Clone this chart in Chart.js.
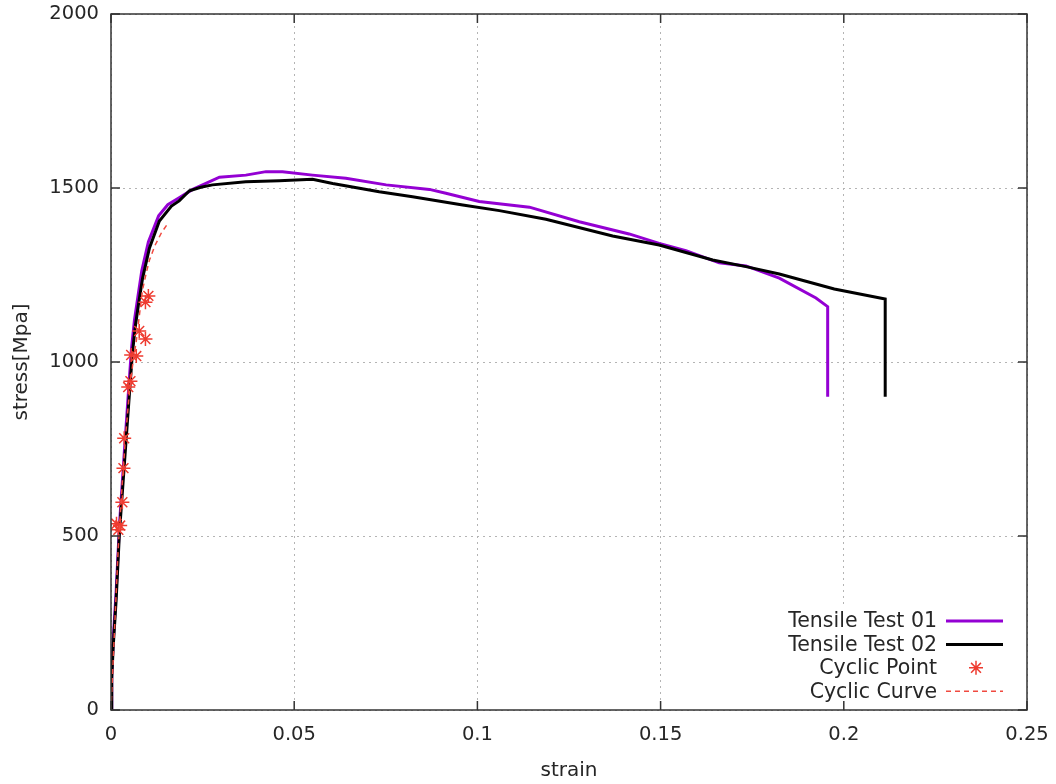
<!DOCTYPE html>
<html>
<head>
<meta charset="utf-8">
<title>Tensile vs cyclic</title>
<script src="https://cdn.jsdelivr.net/npm/chart.js@4/dist/chart.umd.min.js"></script>
<style>
    body { margin: 0; background: #fff; }
    canvas { display: block; }
</style>
</head>
<body>
<canvas id="chart" width="1056" height="784"></canvas>
<script>
// tensile test 01 (purple)
const test01Strain = [0, 0.0002, 0.0006, 0.0014, 0.0023, 0.0035, 0.0048, 0.0056, 0.0064, 0.0073, 0.0084, 0.0102, 0.013, 0.0155, 0.0186, 0.0223, 0.0296, 0.0368, 0.0423, 0.0468, 0.055, 0.0641, 0.0751, 0.0869, 0.0914, 0.1005, 0.1142, 0.1278, 0.1414, 0.1496, 0.1569, 0.166, 0.1733, 0.1824, 0.1924, 0.1956, 0.1956];
const test01Stress = [0, 100, 200, 340, 530, 720, 920, 1040, 1120, 1185, 1262, 1345, 1420, 1452, 1472, 1496, 1531, 1537, 1547, 1547, 1537, 1528, 1509, 1496, 1485, 1461, 1445, 1403, 1368, 1341, 1320, 1285, 1276, 1241, 1184, 1159, 900];

// tensile test 02 (black)
const test02Strain = [0, 0.0002, 0.0006, 0.0014, 0.0023, 0.0036, 0.005, 0.0058, 0.0066, 0.0075, 0.0086, 0.0105, 0.0132, 0.0165, 0.0186, 0.0214, 0.0245, 0.0277, 0.0368, 0.0459, 0.055, 0.0605, 0.0732, 0.0823, 0.096, 0.106, 0.1187, 0.1369, 0.1496, 0.1642, 0.1733, 0.1824, 0.1974, 0.2113, 0.2113];
const test02Stress = [0, 90, 182, 316, 508, 699, 905, 1020, 1100, 1165, 1240, 1328, 1405, 1448, 1463, 1492, 1502, 1509, 1518, 1521, 1525, 1513, 1489, 1475, 1451, 1435, 1410, 1362, 1336, 1293, 1274, 1253, 1210, 1181, 900];

// cyclic points (red asterisks)
const cyclicStrain = [0.0015, 0.002, 0.0025, 0.0031, 0.0034, 0.0036, 0.0047, 0.0053, 0.0055, 0.0069, 0.0077, 0.0094, 0.0094, 0.0102];
const cyclicStress = [535, 518, 530, 597, 695, 781, 928, 945, 1020, 1017, 1089, 1066, 1172, 1190];

// cyclic curve (dashed)
const curveStrain = [0, 0.0005, 0.001, 0.002, 0.003, 0.004, 0.005, 0.006, 0.0069, 0.0077, 0.0086, 0.0096, 0.0105, 0.012, 0.0138, 0.0155];
const curveStress = [0, 120, 240, 470, 640, 790, 910, 1000, 1060, 1130, 1207, 1255, 1293, 1335, 1372, 1398];

const xTickValues = [0, 0.05, 0.1, 0.15, 0.2, 0.25];
const xTickLabels = ['0', '0.05', '0.1', '0.15', '0.2', '0.25'];
const yTickValues = [0, 500, 1000, 1500, 2000];
const yTickLabels = ['0', '500', '1000', '1500', '2000'];

const seriesLabels = ['Tensile Test 01', 'Tensile Test 02', 'Cyclic Point', 'Cyclic Curve'];

function toPoints(xs, ys) {
    return xs.map((x, i) => ({x: x, y: ys[i]}));
}

const FONT = 'DejaVu Sans';
const TEXT = '#262626';

// gnuplot-style key, text on the left of the sample, white box behind
const keyPlugin = {
    id: 'key',
    afterDatasetsDraw(chart) {
        const ctx = chart.ctx;
        const area = chart.chartArea;
        const right = area.right - 24;
        const rowH = 23.4;
        const firstY = area.bottom - 89;
        ctx.save();
        ctx.fillStyle = '#fff';
        ctx.fillRect(right - 240, firstY - 15, 246, rowH * 4 + 6);
        ctx.font = '20.5px "' + FONT + '"';
        ctx.textAlign = 'right';
        ctx.textBaseline = 'middle';
        chart.data.datasets.forEach((ds, i) => {
            const y = firstY + i * rowH;
            ctx.fillStyle = TEXT;
            ctx.fillText(ds.label, right - 66, y + 1);
            if (ds.showLine) {
                ctx.strokeStyle = ds.borderColor;
                ctx.lineWidth = ds.borderWidth;
                ctx.setLineDash(ds.borderDash || []);
                ctx.beginPath();
                ctx.moveTo(right - 57, y);
                ctx.lineTo(right, y);
                ctx.stroke();
                ctx.setLineDash([]);
            } else {
                ctx.strokeStyle = ds.borderColor;
                ctx.lineWidth = ds.borderWidth;
                Chart.helpers.drawPoint(ctx, {pointStyle: 'star', radius: ds.pointRadius, borderWidth: ds.borderWidth}, right - 27, y);
            }
        });
        ctx.restore();
    }
};

// border box and inward ticks on all four sides
const framePlugin = {
    id: 'frame',
    afterDraw(chart) {
        const ctx = chart.ctx;
        const a = chart.chartArea;
        const xs = chart.scales.x;
        const ys = chart.scales.y;
        const len = 9;
        ctx.save();
        ctx.strokeStyle = '#333';
        ctx.lineWidth = 1.5;
        ctx.beginPath();
        xTickValues.forEach(v => {
            const px = xs.getPixelForValue(v);
            ctx.moveTo(px, a.bottom); ctx.lineTo(px, a.bottom - len);
            ctx.moveTo(px, a.top); ctx.lineTo(px, a.top + len);
        });
        yTickValues.forEach(v => {
            const py = ys.getPixelForValue(v);
            ctx.moveTo(a.left, py); ctx.lineTo(a.left + len, py);
            ctx.moveTo(a.right, py); ctx.lineTo(a.right - len, py);
        });
        ctx.stroke();
        ctx.strokeRect(a.left, a.top, a.right - a.left, a.bottom - a.top);
        ctx.restore();
    }
};

new Chart(document.getElementById('chart'), {
    type: 'scatter',
    data: {
        datasets: [{
            label: seriesLabels[0],
            data: toPoints(test01Strain, test01Stress),
            showLine: true,
            borderColor: '#9400d3',
            borderWidth: 3,
            pointRadius: 0,
            tension: 0,
            order: 4
        }, {
            label: seriesLabels[1],
            data: toPoints(test02Strain, test02Stress),
            showLine: true,
            borderColor: '#000000',
            borderWidth: 3,
            pointRadius: 0,
            tension: 0,
            order: 3
        }, {
            label: seriesLabels[2],
            data: toPoints(cyclicStrain, cyclicStress),
            showLine: false,
            pointStyle: 'star',
            pointRadius: 7,
            borderColor: '#ee3b30',
            backgroundColor: '#ee3b30',
            borderWidth: 1.5,
            order: 2
        }, {
            label: seriesLabels[3],
            data: toPoints(curveStrain, curveStress),
            showLine: true,
            borderColor: '#f04a40',
            borderWidth: 1.5,
            borderDash: [5, 4],
            pointRadius: 0,
            tension: 0,
            order: 1
        }]
    },
    options: {
        responsive: false,
        animation: false,
        layout: {
            padding: {top: 14, right: 29, left: 0, bottom: 0}
        },
        plugins: {
            legend: { display: false },
            tooltip: { enabled: false }
        },
        scales: {
            x: {
                type: 'linear',
                min: 0,
                max: 0.25,
                afterBuildTicks: s => { s.ticks = xTickValues.map(v => ({value: v})); },
                afterFit: s => {
                    s.height = 74;
                    s.paddingLeft = 0;
                    s.paddingRight = 0;
                },
                ticks: {
                    callback: (v, i) => xTickLabels[i],
                    color: TEXT,
                    font: {family: FONT, size: 19.5},
                    padding: 13,
                    maxRotation: 0
                },
                grid: {
                    color: '#b4b4b4',
                    lineWidth: 1,
                    drawTicks: false
                },
                border: { display: false, dash: [2, 4] },
                title: {
                    display: true,
                    text: 'strain',
                    color: TEXT,
                    font: {family: FONT, size: 20},
                    padding: {top: 0, bottom: 1}
                }
            },
            y: {
                type: 'linear',
                min: 0,
                max: 2000,
                afterBuildTicks: s => { s.ticks = yTickValues.map(v => ({value: v})); },
                afterFit: s => {
                    s.width = 111;
                    s.paddingTop = 0;
                    s.paddingBottom = 0;
                },
                ticks: {
                    callback: (v, i) => yTickLabels[i],
                    color: TEXT,
                    font: {family: FONT, size: 19.5},
                    padding: 12
                },
                grid: {
                    color: '#b4b4b4',
                    lineWidth: 1,
                    drawTicks: false
                },
                border: { display: false, dash: [2, 4] },
                title: {
                    display: true,
                    text: 'stress[Mpa]',
                    color: TEXT,
                    font: {family: FONT, size: 20},
                    padding: {top: 10, bottom: 0}
                }
            }
        }
    },
    plugins: [keyPlugin, framePlugin]
});
</script>
</body>
</html>
